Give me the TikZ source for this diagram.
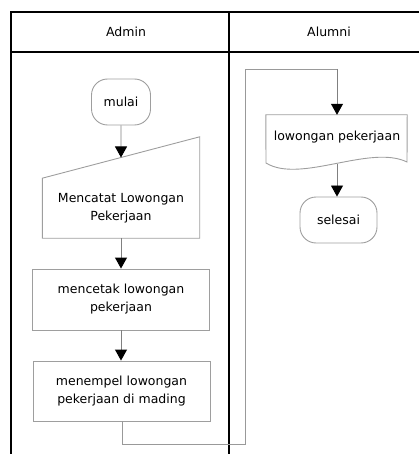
\documentclass[tikz,border=0pt]{standalone}
\usepackage{fontspec}
\setmainfont{DejaVu Sans}
\usetikzlibrary{arrows.meta,calc}
\begin{document}
\begin{tikzpicture}[x=1pt,y=-1pt,
  frame/.style={line width=2pt,black},
  box/.style={draw=black!38,line width=0.9pt,align=center,inner sep=0pt,
    font=\fontsize{12.5}{18}\selectfont},
  term/.style={box,rounded corners=16pt},
  blank/.style={inner sep=0pt,draw=none},
  txt/.style={align=center,inner sep=0pt,font=\fontsize{12.5}{18}\selectfont},
  shapeline/.style={draw=black!38,line width=0.9pt},
  flow/.style={draw=black!50,line width=0.9pt,-{Triangle[width=12pt,length=11pt,color=black,fill=black]}},
  plainflow/.style={draw=black!40,line width=0.9pt}]
\useasboundingbox (0,0) rectangle (419,454);
% swimlane frame
\coordinate (tl) at (11,12);
\coordinate (tr) at (419,12);
\coordinate (hl) at (11,52);
\coordinate (hr) at (419,52);
\coordinate (bl) at (11,454);
\coordinate (dt) at (229,12);
\coordinate (db) at (229,454);
\draw[frame] (tr) -- (tl) -- (bl);
\draw[frame] (hl) -- (hr);
\draw[frame] (dt) -- (db);
\node[txt] (hadmin) at (126,32) {Admin};
\node[txt] (halumni) at (329,32) {Alumni};
% Admin lane
\node[term,minimum width=59pt,minimum height=46pt] (mulai) at (121,102) {mulai};
\node[blank,minimum width=157pt,minimum height=101pt] (mi) at (121,187.5) {};
\coordinate (mitl) at ($(mi.south west)+(0,-60)$);
\coordinate (mitr) at (mi.north east);
\coordinate (miin) at ($(mitl)!0.5!(mitr)$);
\draw[shapeline] (mitl) -- (mitr) -- (mi.south east) -- (mi.south west) -- cycle;
\node[txt] (mitext) at (121,208) {Mencatat Lowongan\\Pekerjaan};
\node[box,minimum width=177pt,minimum height=61pt] (cetak) at (121,299.5) {mencetak lowongan\\pekerjaan};
\node[box,minimum width=177pt,minimum height=60pt] (tempel) at (121.5,391) {menempel lowongan\\pekerjaan di mading};
\draw[flow] (mulai.south) -- (miin);
\draw[flow] (mi.south) -- (cetak.north);
\draw[flow] (cetak.south) -- (cetak.south |- tempel.north);
% Alumni lane
\node[blank,minimum width=141pt,minimum height=49pt] (doc) at (336.5,139.5) {};
\coordinate (docb) at (337,164);
\draw[shapeline] (doc.north west) -- (doc.north east) -- (407,162)
  .. controls (370,144) and (300,184) .. (266,163) -- cycle;
\node[txt] (doctext) at (337,137) {lowongan pekerjaan};
\node[term,minimum width=77pt,minimum height=46pt] (selesai) at (338.5,220) {selesai};
\coordinate (c1) at (122,444);
\coordinate (c2) at (245,444);
\coordinate (c3) at (245,69);
\coordinate (c4) at (337,69);
\draw[plainflow] (tempel.south -| c1) -- (c1) -- (c2) -- (c3) -- (c4);
\draw[flow] (c4) -- (doc.north -| c4);
\draw[flow] (docb) -- (selesai.north -| docb);
\end{tikzpicture}
\end{document}
